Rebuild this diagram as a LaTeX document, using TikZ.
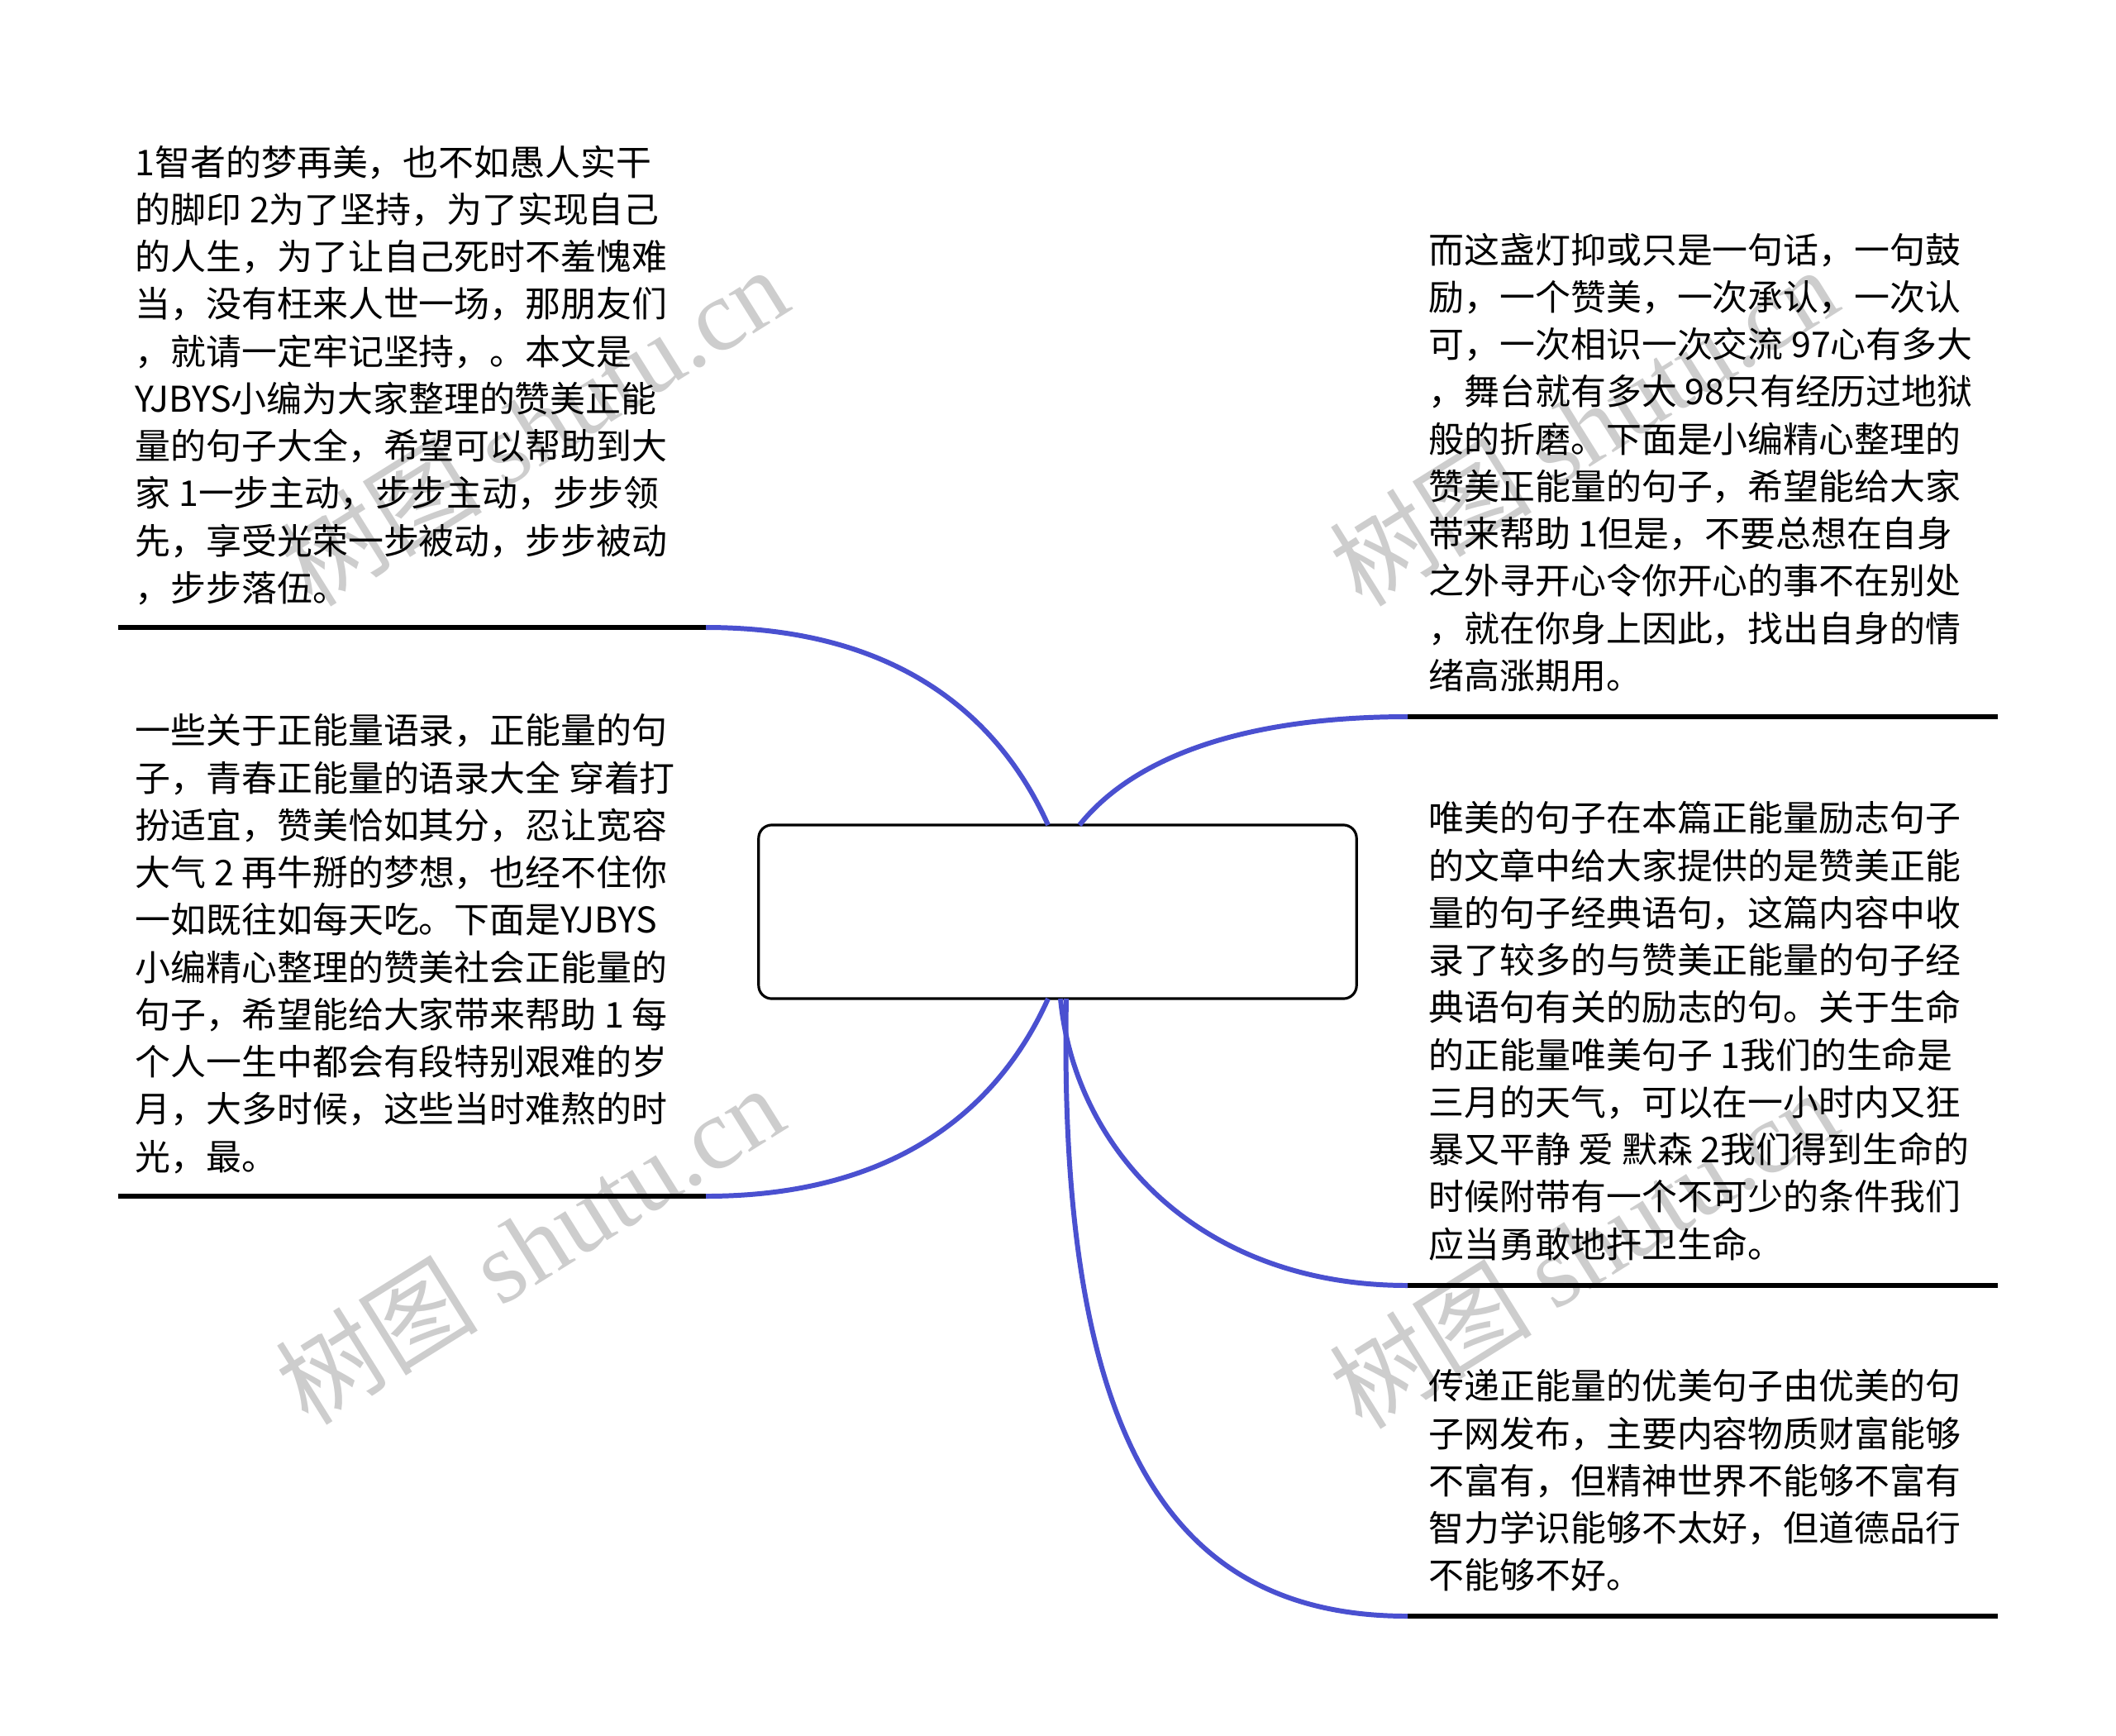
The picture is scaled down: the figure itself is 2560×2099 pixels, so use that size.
\documentclass[tikz,border=0pt]{standalone}
\usepackage{fontspec}
\setmainfont{Noto Sans CJK SC}
\newfontfamily\markfont{Liberation Serif}
\definecolor{branchblue}{RGB}{74,80,208}
\definecolor{markgray}{RGB}{205,205,205}

\begin{document}
\begin{tikzpicture}
    [
    x=0.01cm,y=-0.01cm,
    rootbox/.style={draw,rounded corners=0.16cm,line width=0.9pt,minimum width=7.23cm,minimum height=2.1cm},
    leaf/.style={anchor=north west,inner sep=0pt,align=left,font=\fontsize{12.2pt}{16.28pt}\selectfont},
    leafline/.style={line width=1.7pt},
    branchline/.style={draw=branchblue,line width=1.7pt},
    watermark/.style={rotate=32,text=markgray,inner sep=0pt,font=\fontsize{35pt}{35pt}\selectfont}
    ]
    \useasboundingbox (0,0) rectangle (2560,2099);
    % watermarks
    \node (wm1) at (645,515) [watermark] {树图 {\markfont shutu.cn}};
    \node (wm2) at (640,1505) [watermark] {树图 {\markfont shutu.cn}};
    \node (wm3) at (1915,515) [watermark] {树图 {\markfont shutu.cn}};
    \node (wm4) at (1915,1510) [watermark] {树图 {\markfont shutu.cn}};

    \node (root) at (1279.5,1103) [rootbox] {};

    % left side
    \node (lt) at (163,175) [leaf] {1智者的梦再美，也不如愚人实干\\的脚印 2为了坚持，为了实现自己\\的人生，为了让自己死时不羞愧难\\当，没有枉来人世一场，那朋友们\\，就请一定牢记坚持，。本文是\\YJBYS小编为大家整理的赞美正能\\量的句子大全，希望可以帮助到大\\家 1一步主动，步步主动，步步领\\先，享受光荣一步被动，步步被动\\，步步落伍。};
    \coordinate (lt-a) at (143,759);
    \coordinate (lt-b) at (854,759);
    \coordinate (root-lt) at (1268,998);
    \draw [leafline] (lt-a) -- (lt-b);
    \draw [branchline] (lt-b) .. controls (1100,759) and (1215,880) .. (root-lt);

    \node (lb) at (163,863) [leaf] {一些关于正能量语录，正能量的句\\子，青春正能量的语录大全 穿着打\\扮适宜，赞美恰如其分，忍让宽容\\大气 2 再牛掰的梦想，也经不住你\\一如既往如每天吃。下面是YJBYS\\小编精心整理的赞美社会正能量的\\句子，希望能给大家带来帮助 1 每\\个人一生中都会有段特别艰难的岁\\月，大多时候，这些当时难熬的时\\光，最。};
    \coordinate (lb-a) at (143,1447);
    \coordinate (lb-b) at (854,1447);
    \coordinate (root-lb) at (1268,1208);
    \draw [leafline] (lb-a) -- (lb-b);
    \draw [branchline] (lb-b) .. controls (1100,1447) and (1215,1326) .. (root-lb);

    % right side
    \node (rt) at (1728,281) [leaf] {而这盏灯抑或只是一句话，一句鼓\\励，一个赞美，一次承认，一次认\\可，一次相识一次交流 97心有多大\\，舞台就有多大 98只有经历过地狱\\般的折磨。下面是小编精心整理的\\赞美正能量的句子，希望能给大家\\带来帮助 1但是，不要总想在自身\\之外寻开心令你开心的事不在别处\\，就在你身上因此，找出自身的情\\绪高涨期用。};
    \coordinate (rt-a) at (1703,867);
    \coordinate (rt-b) at (2417,867);
    \coordinate (root-rt) at (1306,998);
    \draw [leafline] (rt-a) -- (rt-b);
    \draw [branchline] (rt-a) .. controls (1500,867) and (1370,918) .. (root-rt);

    \node (rm) at (1728,969) [leaf] {唯美的句子在本篇正能量励志句子\\的文章中给大家提供的是赞美正能\\量的句子经典语句，这篇内容中收\\录了较多的与赞美正能量的句子经\\典语句有关的励志的句。关于生命\\的正能量唯美句子 1我们的生命是\\三月的天气，可以在一小时内又狂\\暴又平静 爱 默森 2我们得到生命的\\时候附带有一个不可少的条件我们\\应当勇敢地扞卫生命。};
    \coordinate (rm-a) at (1703,1555);
    \coordinate (rm-b) at (2417,1555);
    \coordinate (root-rm) at (1283,1208);
    \draw [leafline] (rm-a) -- (rm-b);
    \draw [branchline] (rm-a) .. controls (1450,1555) and (1300,1390) .. (root-rm);

    \node (rb) at (1728,1656) [leaf] {传递正能量的优美句子由优美的句\\子网发布，主要内容物质财富能够\\不富有，但精神世界不能够不富有\\智力学识能够不太好，但道德品行\\不能够不好。};
    \coordinate (rb-a) at (1703,1955);
    \coordinate (rb-b) at (2417,1955);
    \coordinate (root-rb) at (1290,1208);
    \draw [leafline] (rb-a) -- (rb-b);
    \draw [branchline] (rb-a) .. controls (1420,1955) and (1280,1750) .. (root-rb);
  \end{tikzpicture}
\end{document}
